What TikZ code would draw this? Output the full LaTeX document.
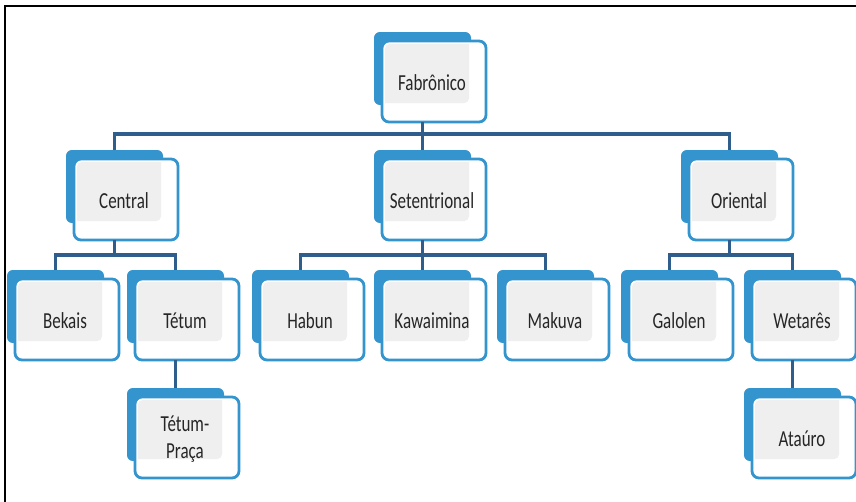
\documentclass[tikz,border=0pt]{standalone}
\usepackage{fontspec}
\setmainfont{Carlito}
\definecolor{langblue}{HTML}{3494CE}
\definecolor{linkblue}{HTML}{2F5D8C}
\definecolor{langgray}{HTML}{EFEFEF}
\definecolor{langink}{HTML}{262626}
\tikzset{
	langback/.style={fill=langblue, rounded corners=5pt},
	langfront/.style={draw=langblue, line width=2.4pt, rounded corners=6pt},
	langtext/.style={text=langink, font=\fontsize{14.5}{17}\selectfont, yscale=1.35, align=center, inner sep=0pt},
	link/.style={draw=linkblue, line width=3.2pt}
}
\newcommand\langbox[4]{%
	\fill[langback] (#2,#3) rectangle ++(97,73);
	\fill[white, rounded corners=6pt] (#2+8,#3+9) rectangle ++(104,81);
	\begin{scope}
		\clip[rounded corners=4pt] (#2+11,#3+12) rectangle ++(98,75);
		\fill[langgray, rounded corners=4pt] (#2,#3) rectangle ++(95,71);
	\end{scope}
	\draw[langfront] (#2+8,#3+9) rectangle ++(104,81);
	\node[langtext] (#1) at (#2+58,#3+51) {#4};
	\coordinate (#1-t) at (#2+48.5,#3);
	\coordinate (#1-b) at (#2+48.5,#3+90);
}
\begin{document}
\begin{tikzpicture}[x=0.03cm, y=-0.03cm]
		\useasboundingbox (0,0) rectangle (856,502);
		\draw[line width=1.8pt] (5,502) -- (5,6) -- (856,6);
		
		\langbox{fab}{374}{32}{Fabrônico}
		\langbox{cen}{66}{150}{Central}
		\langbox{set}{374}{150}{Setentrional}
		\langbox{ori}{681}{150}{Oriental}
		\langbox{bek}{7}{270}{Bekais}
		\langbox{tet}{127}{270}{Tétum}
		\langbox{hab}{252}{270}{Habun}
		\langbox{kaw}{374}{270}{Kawaimina}
		\langbox{mak}{497}{270}{Makuva}
		\langbox{gal}{621}{270}{Galolen}
		\langbox{wet}{744}{270}{Wetarês}
		\langbox{pra}{127}{388}{Tétum-\\Praça}
		\langbox{ata}{744}{388}{Ataúro}
		
		\path[link] (fab-b) -- ++(0,12) -| (cen-t);
		\path[link] (fab-b) -- ++(0,12) -| (ori-t);
		\path[link] (fab-b) -- (set-t);
		\path[link] (cen-b) -- ++(0,15) -| (bek-t);
		\path[link] (cen-b) -- ++(0,15) -| (tet-t);
		\path[link] (set-b) -- ++(0,15) -| (hab-t);
		\path[link] (set-b) -- ++(0,15) -| (mak-t);
		\path[link] (set-b) -- (kaw-t);
		\path[link] (ori-b) -- ++(0,15) -| (gal-t);
		\path[link] (ori-b) -- ++(0,15) -| (wet-t);
		\path[link] (tet-b) -- (pra-t);
		\path[link] (wet-b) -- (ata-t);
\end{tikzpicture}
\end{document}
